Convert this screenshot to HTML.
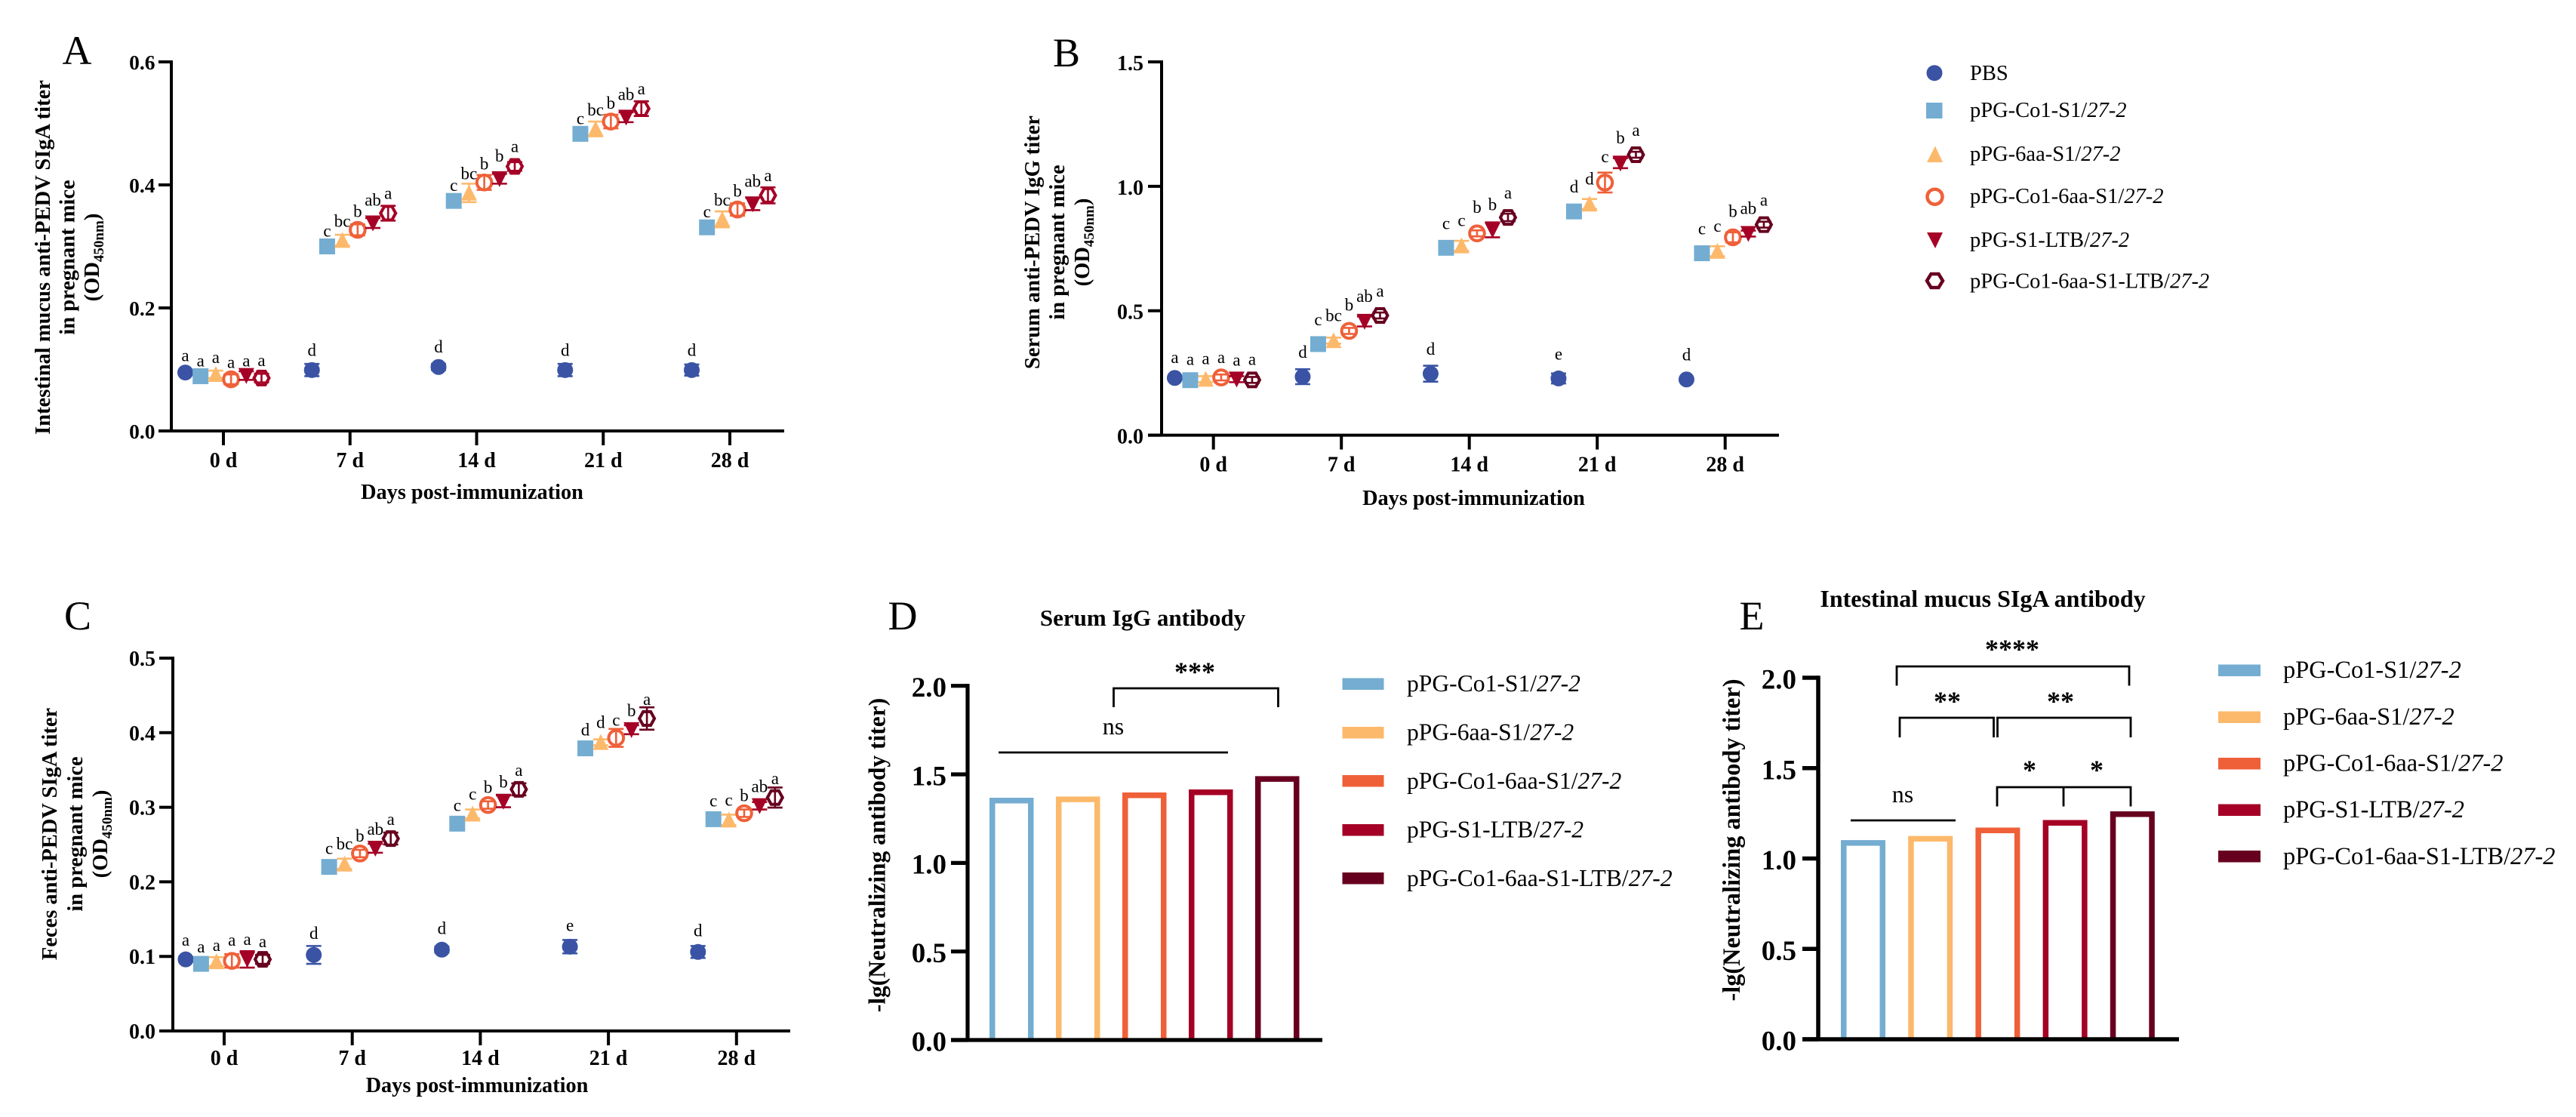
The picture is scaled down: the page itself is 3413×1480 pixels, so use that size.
<!DOCTYPE html>
<html lang="en">
<head>
<meta charset="utf-8">
<title>Antibody titers in pregnant mice</title>
<style>
html,body{margin:0;padding:0;background:#fff;}
svg{display:block;}
text{font-family:"Liberation Serif",serif;fill:#000;}
.it{font-style:italic;}
.panel{font-size:54px;text-anchor:middle;}
.ytitle{font-size:28.5px;font-weight:bold;text-anchor:middle;}
.ytitle2{font-size:31.5px;font-weight:bold;text-anchor:middle;}
.ytitle3{font-size:32.3px;font-weight:bold;text-anchor:middle;}
.leg{font-size:28.5px;}
.legd{font-size:31.6px;}
.lege{font-size:32.4px;}
.star{font-size:36px;font-weight:bold;text-anchor:middle;}
.ns{font-size:32px;text-anchor:middle;}
.ctitle{font-size:31px;font-weight:bold;text-anchor:middle;}
.ctitle2{font-size:32px;font-weight:bold;text-anchor:middle;}
.br{fill:none;stroke:#000;stroke-width:2.8;}
</style>
</head>
<body>
<svg id="fig" xmlns="http://www.w3.org/2000/svg" width="3413" height="1480" viewBox="0 0 3413 1480">
<rect x="0" y="0" width="3413" height="1480" fill="#fff"/>

<text class="panel" x="102" y="85">A</text>
<text class="panel" x="1413" y="88">B</text>
<text class="panel" x="103" y="834">C</text>
<text class="panel" x="1196" y="834">D</text>
<text class="panel" x="2321" y="834">E</text>

<g>
<text class="ytitle" transform="translate(66,341) rotate(-90)">Intestinal mucus anti-PEDV SIgA titer</text>
<text class="ytitle" transform="translate(98.5,341) rotate(-90)">in pregnant mice</text>
<text class="ytitle" transform="translate(131,341) rotate(-90)">(OD<tspan font-size="19" dy="6">450nm</tspan><tspan dy="-6">)</tspan></text>
</g>
<g>
<text class="ytitle" transform="translate(1377,321) rotate(-90)">Serum anti-PEDV IgG titer</text>
<text class="ytitle" transform="translate(1410,321) rotate(-90)">in pregnant mice</text>
<text class="ytitle" transform="translate(1443,321) rotate(-90)">(OD<tspan font-size="19" dy="6">450nm</tspan><tspan dy="-6">)</tspan></text>
</g>
<g>
<text class="ytitle" transform="translate(75,1105) rotate(-90)">Feces anti-PEDV SIgA titer</text>
<text class="ytitle" transform="translate(109,1105) rotate(-90)">in pregnant mice</text>
<text class="ytitle" transform="translate(142,1105) rotate(-90)">(OD<tspan font-size="19" dy="6">450nm</tspan><tspan dy="-6">)</tspan></text>
</g>
<text class="ytitle2" transform="translate(1172.7,1133) rotate(-90)">-lg(Neutralizing antibody titer)</text>
<text class="ytitle3" transform="translate(2305,1113) rotate(-90)">-lg(Neutralizing antibody titer)</text>

<text class="ctitle" x="1514" y="829">Serum IgG antibody</text>
<text class="ctitle2" x="2627" y="804">Intestinal mucus SIgA antibody</text>

<g>
<g>
<circle cx="2563" cy="96.7" r="10.5" fill="#3A53A4"/>
<text class="leg" x="2610" y="106">PBS</text>
</g>
<g>
<rect x="2552" y="136" width="21.5" height="21" fill="#74ADD1"/>
<text class="leg" x="2610" y="155">pPG-Co1-S1/<tspan class="it">27-2</tspan></text>
</g>
<g>
<polygon points="2564,193.5 2574,215 2553,215" fill="#FDB96B"/>
<text class="leg" x="2610" y="213">pPG-6aa-S1/<tspan class="it">27-2</tspan></text>
</g>
<g>
<circle cx="2563.5" cy="260.7" r="10" fill="#fff" stroke="#EF6039" stroke-width="4.5"/>
<text class="leg" x="2610" y="269">pPG-Co1-6aa-S1/<tspan class="it">27-2</tspan></text>
</g>
<g>
<polygon points="2553,308 2574,308 2564,329" fill="#A50026"/>
<text class="leg" x="2610" y="327">pPG-S1-LTB/<tspan class="it">27-2</tspan></text>
</g>
<g>
<polygon points="2553,372 2558.5,363 2568.5,363 2574,372 2568.5,381 2558.5,381" fill="#fff" stroke="#67001F" stroke-width="4.5"/>
<text class="leg" x="2610" y="381.7">pPG-Co1-6aa-S1-LTB/<tspan class="it">27-2</tspan></text>
</g>
</g>

<g>
<g><rect x="1778.5" y="898.5" width="55" height="15.5" fill="#74ADD1"/><text class="legd" x="1864" y="916">pPG-Co1-S1/<tspan class="it">27-2</tspan></text></g>
<g><rect x="1778.5" y="963" width="55" height="15.5" fill="#FDB96B"/><text class="legd" x="1864" y="980.5">pPG-6aa-S1/<tspan class="it">27-2</tspan></text></g>
<g><rect x="1778.5" y="1027" width="55" height="15.5" fill="#EF6039"/><text class="legd" x="1864" y="1045">pPG-Co1-6aa-S1/<tspan class="it">27-2</tspan></text></g>
<g><rect x="1778.5" y="1092" width="55" height="15.5" fill="#A50026"/><text class="legd" x="1864" y="1109.5">pPG-S1-LTB/<tspan class="it">27-2</tspan></text></g>
<g><rect x="1778.5" y="1156" width="55" height="15.5" fill="#67001F"/><text class="legd" x="1864" y="1174">pPG-Co1-6aa-S1-LTB/<tspan class="it">27-2</tspan></text></g>
</g>

<g>
<g><rect x="2939" y="880.5" width="56" height="15.5" fill="#74ADD1"/><text class="lege" x="3025" y="898">pPG-Co1-S1/<tspan class="it">27-2</tspan></text></g>
<g><rect x="2939" y="942.5" width="56" height="15.5" fill="#FDB96B"/><text class="lege" x="3025" y="960">pPG-6aa-S1/<tspan class="it">27-2</tspan></text></g>
<g><rect x="2939" y="1004" width="56" height="15.5" fill="#EF6039"/><text class="lege" x="3025" y="1021.5">pPG-Co1-6aa-S1/<tspan class="it">27-2</tspan></text></g>
<g><rect x="2939" y="1065.5" width="56" height="15.5" fill="#A50026"/><text class="lege" x="3025" y="1083">pPG-S1-LTB/<tspan class="it">27-2</tspan></text></g>
<g><rect x="2939" y="1127" width="56" height="15.5" fill="#67001F"/><text class="lege" x="3025" y="1145">pPG-Co1-6aa-S1-LTB/<tspan class="it">27-2</tspan></text></g>
</g>

<g>
<path class="br" d="M1475.5 937V912H1693.5V937"/>
<text class="star" x="1583" y="902">***</text>
<path class="br" d="M1323 997H1627"/>
<text class="ns" x="1475" y="973">ns</text>
</g>

<g>
<path class="br" d="M2513 908.5V883H2821V908.5"/>
<text class="star" x="2666" y="872">****</text>
<path class="br" d="M2517 977V951H2641.5V977"/>
<path class="br" d="M2646.5 977V951H2823V977"/>
<text class="star" x="2580" y="941">**</text>
<text class="star" x="2730" y="941">**</text>
<path class="br" d="M2646 1068.5V1043H2823V1068.5M2734 1043V1068.5"/>
<text class="star" x="2689" y="1032">*</text>
<text class="star" x="2778" y="1032">*</text>
<path class="br" d="M2452 1087H2591"/>
<text class="ns" x="2521" y="1063">ns</text>
</g>

<g id="plots"></g>
</svg>

<script>
// ---------- shared categories ----------
const days = ['0 d', '7 d', '14 d', '21 d', '28 d'];
const seriesNames = ['pbs', 'co1', '6aa', 'co1-6aa', 'ltb', 'co1-6aa-ltb'];
const barGroups = ['co1', '6aa', 'co1-6aa', 'ltb', 'co1-6aa-ltb'];

// ---------- panel A ----------
const aTicks = [0, 0.2, 0.4, 0.6];
const aPbs = [0.095, 0.099, 0.104, 0.099, 0.099];
const aCo1 = [0.089, 0.300, 0.374, 0.483, 0.331];
const a6aa = [0.092, 0.310, 0.387, 0.491, 0.344];
const aCo16aa = [0.084, 0.327, 0.404, 0.503, 0.360];
const aLtb = [0.090, 0.338, 0.410, 0.510, 0.369];
const aFull = [0.086, 0.354, 0.430, 0.524, 0.383];
const aPbsErr = [0.003, 0.010, 0.005, 0.010, 0.009];
const aCo1Err = [0.003, 0.003, 0.004, 0.005, 0.004];
const a6aaErr = [0.006, 0.009, 0.015, 0.012, 0.013];
const aCo16aaErr = [0.008, 0.009, 0.012, 0.011, 0.010];
const aLtbErr = [0.007, 0.008, 0.008, 0.008, 0.010];
const aFullErr = [0.007, 0.012, 0.007, 0.012, 0.013];
const aLabelsPbs = ['a', 'd', 'd', 'd', 'd'];
const aLabelsCo1 = ['a', 'c', 'c', 'c', 'c'];
const aLabels6aa = ['a', 'bc', 'bc', 'bc', 'bc'];
const aLabelsCo16aa = ['a', 'b', 'b', 'b', 'b'];
const aLabelsLtb = ['a', 'ab', 'b', 'ab', 'ab'];
const aLabelsFull = ['a', 'a', 'a', 'a', 'a'];

// ---------- panel B ----------
const bTicks = [0, 0.5, 1.0, 1.5];
const bPbs = [0.230, 0.235, 0.247, 0.228, 0.224];
const bCo1 = [0.221, 0.366, 0.753, 0.899, 0.731];
const b6aa = [0.225, 0.380, 0.761, 0.929, 0.739];
const bCo16aa = [0.232, 0.419, 0.811, 1.015, 0.795];
const bLtb = [0.225, 0.457, 0.825, 1.093, 0.810];
const bFull = [0.222, 0.481, 0.875, 1.127, 0.846];
const bPbsErr = [0.005, 0.030, 0.032, 0.020, 0.005];
const bCo1Err = [0.006, 0.006, 0.008, 0.008, 0.008];
const b6aaErr = [0.012, 0.012, 0.020, 0.020, 0.020];
const bCo16aaErr = [0.012, 0.012, 0.012, 0.040, 0.020];
const bLtbErr = [0.012, 0.020, 0.030, 0.020, 0.012];
const bFullErr = [0.012, 0.012, 0.015, 0.012, 0.012];
const bLabelsPbs = ['a', 'd', 'd', 'e', 'd'];
const bLabelsCo1 = ['a', 'c', 'c', 'd', 'c'];
const bLabels6aa = ['a', 'bc', 'c', 'd', 'c'];
const bLabelsCo16aa = ['a', 'b', 'b', 'c', 'b'];
const bLabelsLtb = ['a', 'ab', 'b', 'b', 'ab'];
const bLabelsFull = ['a', 'a', 'a', 'a', 'a'];

// ---------- panel C ----------
const cTicks = [0, 0.1, 0.2, 0.3, 0.4, 0.5];
const cPbs = [0.096, 0.102, 0.109, 0.113, 0.106];
const cCo1 = [0.090, 0.220, 0.278, 0.379, 0.284];
const c6aa = [0.093, 0.224, 0.291, 0.387, 0.283];
const cCo16aa = [0.094, 0.238, 0.303, 0.393, 0.292];
const cLtb = [0.096, 0.245, 0.308, 0.404, 0.302];
const cFull = [0.096, 0.258, 0.324, 0.419, 0.313];
const cPbsErr = [0.003, 0.012, 0.004, 0.009, 0.008];
const cCo1Err = [0.003, 0.004, 0.004, 0.004, 0.004];
const c6aaErr = [0.006, 0.007, 0.006, 0.004, 0.007];
const cCo16aaErr = [0.009, 0.005, 0.005, 0.012, 0.005];
const cLtbErr = [0.011, 0.006, 0.008, 0.006, 0.005];
const cFullErr = [0.006, 0.008, 0.008, 0.015, 0.0135];
const cLabelsPbs = ['a', 'd', 'd', 'e', 'd'];
const cLabelsCo1 = ['a', 'c', 'c', 'd', 'c'];
const cLabels6aa = ['a', 'bc', 'c', 'd', 'c'];
const cLabelsCo16aa = ['a', 'b', 'b', 'c', 'b'];
const cLabelsLtb = ['a', 'ab', 'b', 'b', 'ab'];
const cLabelsFull = ['a', 'a', 'a', 'a', 'a'];

// ---------- panels D and E ----------
const dTicks = [0, 0.5, 1.0, 1.5, 2.0];
const dValues = [1.368, 1.375, 1.398, 1.415, 1.490];
const eTicks = [0, 0.5, 1.0, 1.5, 2.0];
const eValues = [1.102, 1.125, 1.171, 1.213, 1.261];

const SVGNS = 'http://www.w3.org/2000/svg';
const colors = ['#3A53A4', '#74ADD1', '#FDB96B', '#EF6039', '#A50026', '#67001F'];
const barColors = ['#74ADD1', '#FDB96B', '#EF6039', '#A50026', '#67001F'];
const root = document.getElementById('plots');

function mk(parent, tag) {
  const node = document.createElementNS(SVGNS, tag);
  parent.appendChild(node);
  return node;
}
function set(node, props) {
  for (const k in props) node.setAttribute(k, props[k]);
  return node;
}

function drawAxes(g, o, ticks) {
  const yS = v => o.yZero - v / o.yMax * (o.yZero - o.yTop);
  const spine = set(mk(g, 'line'), {x1: o.axisX, x2: o.axisX, y1: o.yTop - o.sw / 2, y2: o.yZero, stroke: '#000', 'stroke-width': o.sw});
  
  
  const base = set(mk(g, 'line'), {x1: o.tickLeft, x2: o.right, y1: o.yZero, y2: o.yZero, stroke: '#000', 'stroke-width': o.sw});
  
  
  ticks.forEach(t => {
    const tk = set(mk(g, 'line'), {x1: o.tickLeft, x2: o.axisX, y1: yS(t), y2: yS(t), stroke: '#000', 'stroke-width': o.sw});
    
    
    const lb = set(mk(g, 'text'), {x: o.labelRight, y: yS(t) + o.labelDy, 'text-anchor': 'end', 'font-size': o.labelSize, 'font-weight': 'bold'});
    lb.textContent = t.toFixed(1);
    
    
  });
  return yS;
}

function drawMarker(g, kind, x, y, color) {
  let m;
  if (kind === 0) {
    m = set(mk(g, 'circle'), {cx: x, cy: y, r: 10.5, fill: color});
  } else if (kind === 1) {
    m = set(mk(g, 'rect'), {x: x - 10.5, y: y - 10.5, width: 21, height: 21, fill: color});
  } else if (kind === 2) {
    m = set(mk(g, 'polygon'), {points: [x, y - 11, x + 10.5, y + 10, x - 10.5, y + 10].join(','), fill: color});
  } else if (kind === 3) {
    m = set(mk(g, 'circle'), {cx: x, cy: y, r: 9.8, fill: '#fff', stroke: color, 'stroke-width': 4});
  } else if (kind === 4) {
    m = set(mk(g, 'polygon'), {points: [x - 10.5, y - 10, x + 10.5, y - 10, x, y + 11].join(','), fill: color});
  } else {
    m = set(mk(g, 'polygon'), {points: [x - 10, y, x - 5, y - 9, x + 5, y - 9, x + 10, y, x + 5, y + 9, x - 5, y + 9].join(','), fill: '#fff', stroke: color, 'stroke-width': 4});
  }
  return m;
}

function drawError(g, x, yHi, yLo, color) {
  const capW = 10;
  const p = set(mk(g, 'path'), {
    d: 'M' + (x - capW) + ' ' + yHi + 'H' + (x + capW) + 'M' + x + ' ' + yHi + 'V' + yLo + 'M' + (x - capW) + ' ' + yLo + 'H' + (x + capW),
    fill: 'none', stroke: color, 'stroke-width': 2.6
  });
  
  
}

function drawScatter(name, o, ticks, means, errs, letters) {
  const g = mk(root, 'g');
  
  
  const yS = drawAxes(g, o, ticks);
  const xT = i => o.tick0 + i * o.dayStep;
  days.forEach((d, i) => {
    const tk = set(mk(g, 'line'), {x1: xT(i), x2: xT(i), y1: o.yZero, y2: o.yZero + 19, stroke: '#000', 'stroke-width': o.sw});
    
    
    const lb = set(mk(g, 'text'), {x: xT(i), y: o.yZero + o.xLabelDy, 'text-anchor': 'middle', 'font-size': 28, 'font-weight': 'bold'});
    lb.textContent = d;
    
    
  });
  const xt = set(mk(g, 'text'), {x: o.xTitleX, y: o.xTitleY, 'text-anchor': 'middle', 'font-size': 28.3, 'font-weight': 'bold'});
  xt.textContent = 'Days post-immunization';
  
  

  means.forEach((vals, s) => {
    const sg = mk(g, 'g');
    
    
    const color = (s === 5 && o.hexColor) ? o.hexColor : colors[s];
    vals.forEach((v, i) => {
      const x = xT(i) + (s - 2.5) * o.seriesStep;
      const y = yS(v);
      const hi = yS(v + errs[s][i]);
      const lo = yS(v - errs[s][i]);
      const open = (s === 3 || s === 5);
      if (!open) drawError(sg, x, hi, lo, color);
      const mark = drawMarker(sg, s, x, y, color);
      
      
      if (open) drawError(sg, x, hi, lo, color);
      const t = set(mk(sg, 'text'), {x: x, y: y - (i === 0 ? o.gap0[s] : o.gap[s]) + 6, 'text-anchor': 'middle', 'font-size': 23});
      t.textContent = letters[s][i];
      
      
    });
  });
}

function drawBars(name, o, ticks, values) {
  const g = mk(root, 'g');
  
  
  const sw = 7.5;
  const yS = v => o.yZero - v / o.yMax * (o.yZero - o.yTop);
  values.forEach((v, i) => {
    const left = o.bar0 + i * o.pitch;
    const top = yS(v);
    const r = set(mk(g, 'path'), {
      d: 'M' + (left + sw / 2) + ' ' + o.yZero + 'V' + (top + sw / 2) + 'H' + (left + o.barW - sw / 2) + 'V' + o.yZero,
      fill: 'none', stroke: barColors[i], 'stroke-width': sw
    });
    
    
  });
  drawAxes(g, o, ticks);
}

drawScatter('panel-a-chart', {
  axisX: 227, yZero: 571, yTop: 82, yMax: 0.6, tickLeft: 210, right: 1039, sw: 4,
  labelRight: 205.5, labelDy: 10, labelSize: 27.5, tick0: 296, dayStep: 167.75, seriesStep: 20.2,
  xLabelDy: 48, xTitleX: 625.5, xTitleY: 661,
  gap: [25, 19, 24, 23, 29, 25], gap0: [21, 19, 21, 21, 18, 22], hexColor: '#A50026'
}, aTicks, [aPbs, aCo1, a6aa, aCo16aa, aLtb, aFull],
  [aPbsErr, aCo1Err, a6aaErr, aCo16aaErr, aLtbErr, aFullErr],
  [aLabelsPbs, aLabelsCo1, aLabels6aa, aLabelsCo16aa, aLabelsLtb, aLabelsFull]);

drawScatter('panel-b-chart', {
  axisX: 1539, yZero: 576.6, yTop: 82, yMax: 1.5, tickLeft: 1521, right: 2357, sw: 4,
  labelRight: 1515, labelDy: 11, labelSize: 28, tick0: 1607.7, dayStep: 169.5, seriesStep: 20.5,
  xLabelDy: 48, xTitleX: 1952.5, xTitleY: 669,
  gap: [31, 31, 32, 33, 32, 31], gap0: [26, 26, 26, 25, 24, 26]
}, bTicks, [bPbs, bCo1, b6aa, bCo16aa, bLtb, bFull],
  [bPbsErr, bCo1Err, b6aaErr, bCo16aaErr, bLtbErr, bFullErr],
  [bLabelsPbs, bLabelsCo1, bLabels6aa, bLabelsCo16aa, bLabelsLtb, bLabelsFull]);

drawScatter('panel-c-chart', {
  axisX: 229, yZero: 1366, yTop: 872, yMax: 0.5, tickLeft: 211, right: 1047, sw: 4,
  labelRight: 206, labelDy: 10, labelSize: 28, tick0: 297, dayStep: 169.7, seriesStep: 20.4,
  xLabelDy: 45, xTitleX: 632, xTitleY: 1447,
  gap: [27, 23, 25, 22, 24, 24], gap0: [24, 21, 20, 26, 25, 22]
}, cTicks, [cPbs, cCo1, c6aa, cCo16aa, cLtb, cFull],
  [cPbsErr, cCo1Err, c6aaErr, cCo16aaErr, cLtbErr, cFullErr],
  [cLabelsPbs, cLabelsCo1, cLabels6aa, cLabelsCo16aa, cLabelsLtb, cLabelsFull]);

drawBars('panel-d-chart', {
  axisX: 1282, yZero: 1378, yTop: 908.7, yMax: 2, tickLeft: 1260, right: 1752, sw: 5.2,
  labelRight: 1254, labelDy: 14.3, labelSize: 37, bar0: 1311, pitch: 88, barW: 58.5
}, dTicks, dValues);

drawBars('panel-e-chart', {
  axisX: 2409, yZero: 1377, yTop: 898, yMax: 2, tickLeft: 2388, right: 2887, sw: 5.5,
  labelRight: 2380, labelDy: 14.5, labelSize: 37, bar0: 2439, pitch: 89.2, barW: 59
}, eTicks, eValues);
</script>
</body>
</html>
